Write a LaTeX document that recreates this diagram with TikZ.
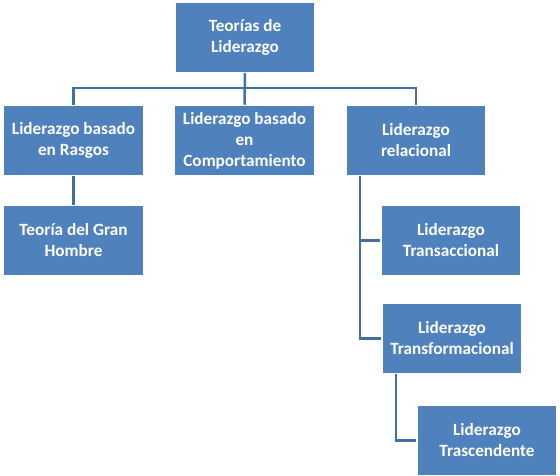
\documentclass[tikz,border=0pt]{standalone}
\usepackage{fontspec}
\setmainfont{Carlito}
\usetikzlibrary{positioning}
\definecolor{boxblue}{HTML}{4F81BD}
\definecolor{lineblue}{HTML}{41719C}

\begin{document}
\begin{tikzpicture}[x=1pt,y=-1pt]
  % Parameters
  \def\boxwidth{140pt}
  \def\boxheight{70pt}
  \def\branchshift{56pt} % offset of the side spines

  \tikzset{
    topic/.style={draw=white, line width=1.5pt, fill=boxblue, text=white,
      font=\bfseries\fontsize{17.2}{21}\selectfont, align=center,
      minimum width=\boxwidth, minimum height=\boxheight, inner sep=1pt},
    link/.style={draw=lineblue, line width=2.5pt}
  }

  \useasboundingbox[fill=white] (0,0) rectangle (560,476);

  % Boxes
  \node[topic] (root)    at (245,37.5)  {Teorías de\\Liderazgo};
  \node[topic] (rasgos)  at (73.5,140.5) {Liderazgo basado\\en Rasgos};
  \node[topic] (comport) at (244.5,140.5) {Liderazgo basado\\en\\Comportamiento};
  \node[topic] (relac)   at (416,140.5) {Liderazgo\\relacional};
  \node[topic] (gran)    at (73.5,240.5) {Teoría del Gran\\Hombre};
  \node[topic] (transac) at (451,240.5) {Liderazgo\\Transaccional};
  \node[topic] (transf)  at (452,338.5) {Liderazgo\\Transformacional};
  \node[topic] (trasc)   at (487,440.5) {Liderazgo\\Trascendente};

  % Connectors
  \coordinate (bus) at (245,88);
  \draw[link] (root) -- (comport);
  \draw[link] (rasgos.north) |- (bus) -| (relac.north);
  \draw[link] (rasgos) -- (gran);
  \draw[link] ([xshift=-\branchshift]relac.south) |- (transac.west);
  \draw[link] ([xshift=-\branchshift]relac.south) |- (transf.west);
  \draw[link] ([xshift=-\branchshift]transf.south) |- (trasc.west);

\end{tikzpicture}
\end{document}
